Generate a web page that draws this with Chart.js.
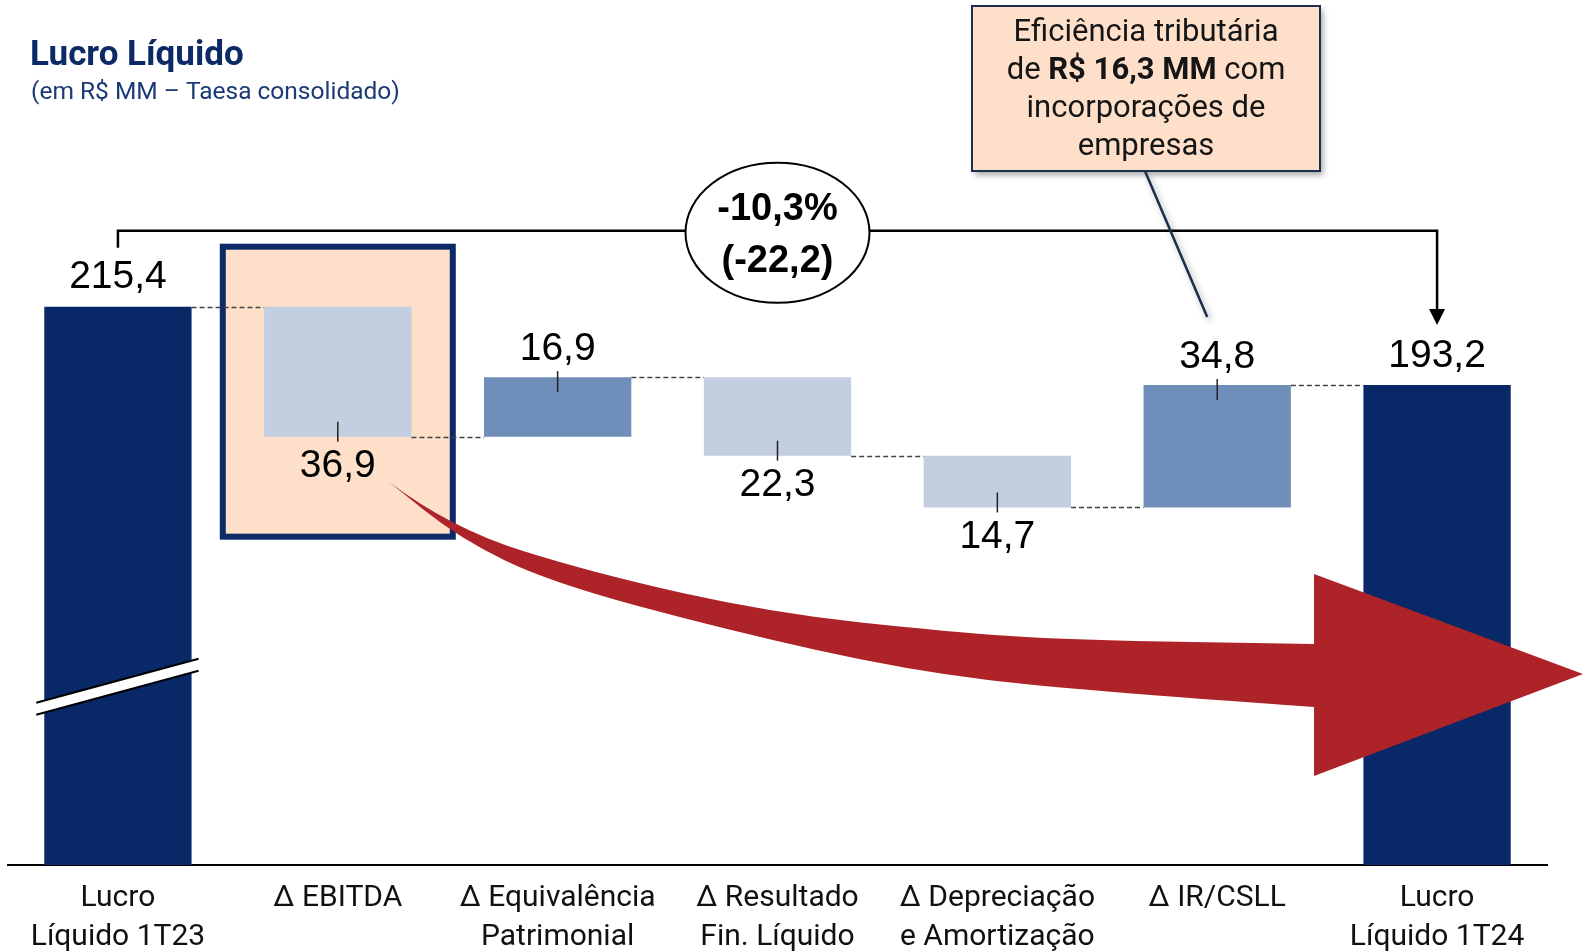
<!DOCTYPE html>
<html>
<head>
<meta charset="utf-8">
<script src="https://cdn.jsdelivr.net/npm/chart.js@4.4.1/dist/chart.umd.min.js"></script>
<style>
  html, body { margin: 0; padding: 0; background: #fff; }
  canvas { display: block; }
</style>
</head>
<body>
<canvas id="waterfall" width="1583" height="951"></canvas>
<script>
// dados (R$ MM)
const categorias = [
  ['Lucro', 'Líquido 1T23'],
  ['Δ EBITDA'],
  ['Δ Equivalência', 'Patrimonial'],
  ['Δ Resultado', 'Fin. Líquido'],
  ['Δ Depreciação', 'e Amortização'],
  ['Δ IR/CSLL'],
  ['Lucro', 'Líquido 1T24']
];
const lucroInicial = 215.4;
const variacoes = [-36.9, 16.9, -22.3, -14.7, 34.8];
const lucroFinal = 193.2;

const corTotal = '#082868';
const corPositiva = '#6f8eba';
const corNegativa = '#c3cee0';

// monta as barras flutuantes
let acumulado = lucroInicial;
const barras = [[0, lucroInicial]];
const niveis = [lucroInicial];
const cores = [corTotal];
variacoes.forEach(v => {
  const novo = Math.round((acumulado + v) * 10) / 10;
  barras.push([Math.min(acumulado, novo), Math.max(acumulado, novo)]);
  cores.push(v >= 0 ? corPositiva : corNegativa);
  acumulado = novo;
  niveis.push(novo);
});
barras.push([0, lucroFinal]);
niveis.push(lucroFinal);
cores.push(corTotal);

const valores = [lucroInicial, ...variacoes, lucroFinal];
const fmt = v => Math.abs(v).toFixed(1).replace('.', ',');
const difTotal = lucroFinal - lucroInicial;
const difPct = difTotal / lucroInicial * 100;

const fonteNum = "'Liberation Sans', Arial, sans-serif";
const fonteTxt = "Roboto, 'Noto Sans', sans-serif";

function curva(ctx, pts) {
  for (let i = 1; i < pts.length - 1; i++) {
    const mx = (pts[i][0] + pts[i + 1][0]) / 2;
    const my = (pts[i][1] + pts[i + 1][1]) / 2;
    ctx.quadraticCurveTo(pts[i][0], pts[i][1], mx, my);
  }
  const u = pts[pts.length - 1];
  ctx.lineTo(u[0], u[1]);
}

const anotacoes = {
  id: 'anotacoes',
  beforeDatasetsDraw(chart) {
    const ctx = chart.ctx;
    const y = chart.scales.y;
    const barra = chart.getDatasetMeta(0).data[1];
    // destaque do EBITDA
    const x0 = barra.x - 115, x1 = barra.x + 115;
    const t = y.getPixelForValue(barras[1][1]) - 60;
    const b = y.getPixelForValue(barras[1][0]) + 100;
    ctx.save();
    ctx.fillStyle = '#fddfca';
    ctx.fillRect(x0, t, x1 - x0, b - t);
    ctx.strokeStyle = '#0b2a66';
    ctx.lineWidth = 6;
    ctx.strokeRect(x0, t, x1 - x0, b - t);
    ctx.restore();
  },
  afterDatasetsDraw(chart) {
    const ctx = chart.ctx;
    const y = chart.scales.y;
    const el = chart.getDatasetMeta(0).data;
    ctx.save();

    // linhas tracejadas de ligação
    ctx.strokeStyle = '#444';
    ctx.lineWidth = 1.5;
    ctx.setLineDash([5, 3]);
    for (let i = 0; i < el.length - 1; i++) {
      const py = Math.round(y.getPixelForValue(niveis[i])) + 0.5;
      ctx.beginPath();
      ctx.moveTo(el[i].x + el[i].width / 2, py);
      ctx.lineTo(el[i + 1].x - el[i + 1].width / 2, py);
      ctx.stroke();
    }
    ctx.setLineDash([]);

    // quebra de eixo na primeira barra
    const e0 = el[0];
    const yc = y.getPixelForValue(107.5);
    const bl = e0.x - e0.width / 2 - 8, br = e0.x + e0.width / 2 + 7;
    ctx.fillStyle = '#fff';
    ctx.beginPath();
    ctx.moveTo(bl, yc + 16); ctx.lineTo(br, yc - 28);
    ctx.lineTo(br, yc - 16); ctx.lineTo(bl, yc + 28);
    ctx.closePath();
    ctx.fill();
    ctx.strokeStyle = '#000';
    ctx.lineWidth = 2;
    ctx.beginPath();
    ctx.moveTo(bl, yc + 16); ctx.lineTo(br, yc - 28);
    ctx.moveTo(bl, yc + 28); ctx.lineTo(br, yc - 16);
    ctx.stroke();

    // rótulos e marcas
    ctx.fillStyle = '#000';
    ctx.font = '39px ' + fonteNum;
    ctx.textAlign = 'center';
    ctx.textBaseline = 'middle';
    valores.forEach((v, i) => {
      const e = el[i];
      const topo = y.getPixelForValue(barras[i][1]);
      const base = y.getPixelForValue(barras[i][0]);
      if (i === 0 || i === valores.length - 1) {
        ctx.fillText(fmt(v), e.x, topo - 29);
        return;
      }
      ctx.strokeStyle = '#222';
      ctx.lineWidth = 1.5;
      ctx.beginPath();
      if (v >= 0) {
        ctx.moveTo(e.x, topo - 6); ctx.lineTo(e.x, topo + 15);
      } else {
        ctx.moveTo(e.x, base - 15); ctx.lineTo(e.x, base + 5);
      }
      ctx.stroke();
      if (v >= 0) ctx.fillText(fmt(v), e.x, topo - 28);
      else ctx.fillText(fmt(v), e.x, base + 30);
    });

    // colchete com seta
    const xa = el[0].x, xb = el[el.length - 1].x;
    const yb = y.getPixelForValue(lucroInicial) - 76;
    const ySeta = y.getPixelForValue(lucroFinal) - 60;
    ctx.strokeStyle = '#000';
    ctx.lineWidth = 2.5;
    ctx.beginPath();
    ctx.moveTo(xa, yb + 17);
    ctx.lineTo(xa, yb);
    ctx.lineTo(xb, yb);
    ctx.lineTo(xb, ySeta - 14);
    ctx.stroke();
    ctx.fillStyle = '#000';
    ctx.beginPath();
    ctx.moveTo(xb - 8, ySeta - 16);
    ctx.lineTo(xb + 8, ySeta - 16);
    ctx.lineTo(xb, ySeta);
    ctx.closePath();
    ctx.fill();

    // elipse com a variação
    const ex = (xa + xb) / 2, ey = yb + 2;
    ctx.beginPath();
    ctx.ellipse(ex, ey, 92, 70, 0, 0, Math.PI * 2);
    ctx.fillStyle = '#fff';
    ctx.fill();
    ctx.lineWidth = 2;
    ctx.stroke();
    ctx.fillStyle = '#000';
    ctx.font = 'bold 38px ' + fonteNum;
    ctx.fillText(difPct.toFixed(1).replace('.', ',') + '%', ex, ey - 23);
    ctx.fillText('(' + difTotal.toFixed(1).replace('.', ',') + ')', ex, ey + 29);

    // seta vermelha
    const topoSeta = [[389, 482], [450, 528], [593, 573], [772, 613], [950, 632], [1070, 640], [1314, 644]];
    const baseSeta = [[1314, 707], [1070, 690], [906, 670], [727, 630], [549, 582], [459, 538], [389, 482]];
    ctx.fillStyle = '#ae2327';
    ctx.beginPath();
    ctx.moveTo(topoSeta[0][0], topoSeta[0][1]);
    curva(ctx, topoSeta);
    ctx.lineTo(1314, 574);
    ctx.lineTo(1583, 674);
    ctx.lineTo(1314, 776);
    ctx.lineTo(1314, 707);
    curva(ctx, baseSeta);
    ctx.closePath();
    ctx.fill();

    // caixa de destaque IR/CSLL
    const cx0 = 972, cy0 = 6, cw = 348, ch = 165;
    ctx.save();
    ctx.shadowColor = 'rgba(0,0,0,0.35)';
    ctx.shadowBlur = 6;
    ctx.shadowOffsetX = 3;
    ctx.shadowOffsetY = 4;
    ctx.fillStyle = '#fddfca';
    ctx.fillRect(cx0, cy0, cw, ch);
    ctx.strokeStyle = '#1a2e4f';
    ctx.lineWidth = 2.5;
    ctx.beginPath();
    ctx.moveTo(1145, cy0 + ch);
    ctx.lineTo(el[5].x - 10, y.getPixelForValue(lucroFinal) - 68);
    ctx.stroke();
    ctx.restore();
    ctx.strokeStyle = '#1a2e4f';
    ctx.lineWidth = 2;
    ctx.strokeRect(cx0, cy0, cw, ch);

    const mx = cx0 + cw / 2;
    const fN = '31px ' + fonteTxt, fB = 'bold 31px ' + fonteTxt;
    ctx.fillStyle = '#151515';
    ctx.font = fN;
    ctx.fillText('Eficiência tributária', mx, 33);
    const p1 = 'de ', p2 = 'R$ 16,3 MM', p3 = ' com';
    ctx.font = fN; const w1 = ctx.measureText(p1).width, w3 = ctx.measureText(p3).width;
    ctx.font = fB; const w2 = ctx.measureText(p2).width;
    const sx = mx - (w1 + w2 + w3) / 2;
    ctx.textAlign = 'left';
    ctx.font = fN; ctx.fillText(p1, sx, 71);
    ctx.font = fB; ctx.fillText(p2, sx + w1, 71);
    ctx.font = fN; ctx.fillText(p3, sx + w1 + w2, 71);
    ctx.textAlign = 'center';
    ctx.fillText('incorporações de', mx, 109);
    ctx.fillText('empresas', mx, 147);

    // título
    ctx.textAlign = 'left';
    ctx.textBaseline = 'alphabetic';
    ctx.fillStyle = '#0b2a66';
    ctx.font = 'bold 35px ' + fonteTxt;
    ctx.fillText('Lucro Líquido', 30, 65);
    ctx.fillStyle = '#1c3a78';
    ctx.font = '24.5px ' + fonteTxt;
    ctx.fillText('(em R$ MM – Taesa consolidado)', 31, 99);

    ctx.restore();
  }
};

new Chart(document.getElementById('waterfall'), {
  type: 'bar',
  data: {
    labels: categorias,
    datasets: [{
      data: barras,
      backgroundColor: cores,
      borderWidth: 0,
      borderSkipped: false,
      barPercentage: 0.67,
      categoryPercentage: 1
    }]
  },
  options: {
    responsive: false,
    devicePixelRatio: 1,
    animation: false,
    layout: { padding: { top: 250, left: 8, right: 36, bottom: 0 } },
    plugins: { legend: { display: false }, tooltip: { enabled: false } },
    scales: {
      x: {
        grid: { display: false, drawTicks: false },
        border: { display: true, color: '#000', width: 2 },
        ticks: {
          color: '#111',
          padding: 14,
          maxRotation: 0,
          autoSkip: false,
          font: { family: "Roboto, 'Noto Sans', sans-serif", size: 30, lineHeight: 1.3 }
        },
        afterFit(scale) { scale.height = 86; }
      },
      y: { display: false, min: 56.9, max: 231.5 }
    }
  },
  plugins: [anotacoes]
});
</script>
</body>
</html>
